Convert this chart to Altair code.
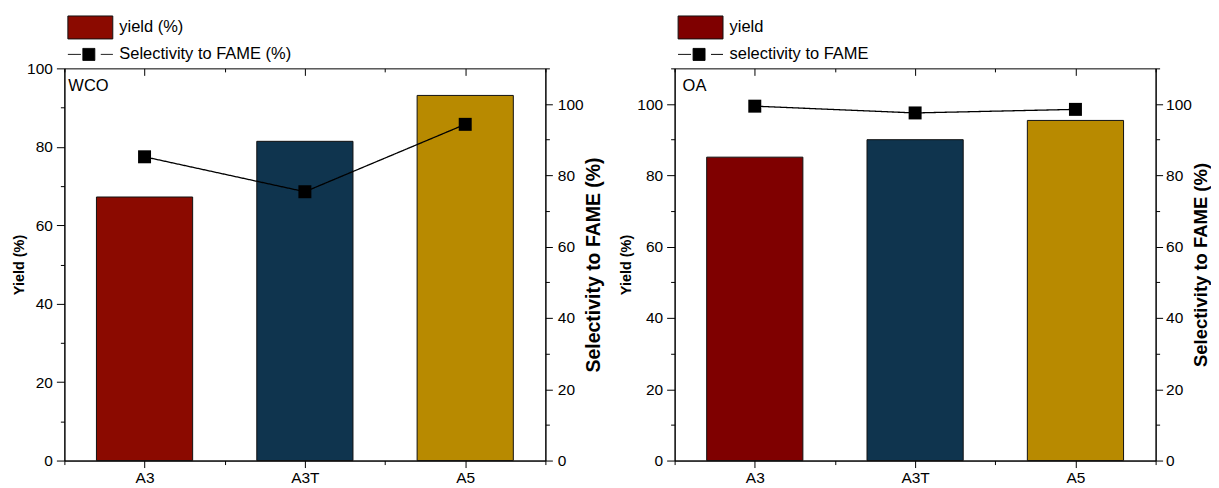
import json
import altair as alt
import pandas as pd

# ---------------- data ----------------
categories = ["A3", "A3T", "A5"]
wco_yield = [67.2, 81.4, 93.1]
wco_selectivity = [85.2, 75.4, 94.3]
oa_yield = [85.1, 90.0, 95.4]
oa_selectivity = [99.4, 97.5, 98.5]

wco_colors = ["#8B0A00", "#0F344E", "#B88A00"]
oa_colors = ["#7F0000", "#0F344E", "#B88A00"]

x_ticks = [0, 0.5, 1, 1.5, 2, 2.5, 3]
ticks_100 = list(range(0, 101, 10))
ticks_110 = list(range(0, 111, 10))

FONT = "Liberation Sans"
cat_js = json.dumps(categories)

# legend symbol shapes (unit box of sqrt(size)=23 px, extended to the right)
RECT_PATH = "M-1,-1H2.913V1H-1Z"
LINE_SQ_PATH = "M-1,0H0.13M1.87,0H2.913M0.304,-0.522H1.348V0.522H0.304Z"

PW, PH = 482, 393


def cond(test, a, b):
    return {"condition": {"test": test, "value": a}, "value": b}


def panel(name, yields, sels, colors, yield_max, yield_ticks, yield_lab, sel_lab,
          label_dx, left_ext, right_ext, right_pad, right_title_size):
    df = pd.DataFrame({
        "cat": categories,
        "idx": list(range(len(categories))),
        "yield": yields,
        "sel": sels,
        "ylab": [yield_lab] * len(categories),
        "slab": [sel_lab] * len(categories),
    })
    base = alt.Chart(df).transform_calculate(
        x0="datum.idx + 0.2", x1="datum.idx + 0.8", xc="datum.idx + 0.5"
    )
    xscale = alt.Scale(domain=[0, 3], nice=False, zero=False)

    bottom_axis = alt.Axis(
        orient="bottom", values=x_ticks, title=None, grid=False,
        labelExpr=f"datum.value % 1 === 0.5 ? {cat_js}[floor(datum.value)] : ''",
        tickSize=cond("datum.value % 1 === 0.5", 7, 4),
        labelOverlap=False, labelFlush=False, labelPadding=3, labelFontSize=15.5,
    )
    top_axis = alt.Axis(
        orient="top", values=x_ticks, title=None, grid=False, labels=False,
        domain=False, offset=-7, tickSize=7,
        tickDash=cond("datum.value % 1 !== 0.5", [0, 3.5, 3.5], []),
    )
    left_axis = alt.Axis(
        orient="left", values=yield_ticks, grid=False, title="Yield (%)",
        labelExpr="datum.value % 20 === 0 ? datum.label : ''",
        tickSize=cond("datum.value % 20 === 0", 8, 4),
        labelOverlap=False, labelPadding=4, labelFontSize=15.5,
        titleFontSize=14.5, titleFontWeight="bold", titlePadding=0,
        minExtent=left_ext, maxExtent=left_ext,
    )
    right_axis = alt.Axis(
        orient="right", values=ticks_110, grid=False, title="Selectivity to FAME (%)",
        labelExpr="datum.value % 20 === 0 && datum.value <= 100 ? datum.label : ''",
        tickSize=cond("datum.value % 20 === 0", 7, 4),
        labelOverlap=False, labelPadding=right_pad, labelFontSize=15.5,
        titleFontSize=right_title_size, titleFontWeight="bold", titlePadding=0,
        titleAngle=270, titleBaseline="top",
        minExtent=right_ext, maxExtent=right_ext,
    )

    bars = base.mark_bar(strokeWidth=1).encode(
        x=alt.X("x0:Q", scale=xscale, axis=bottom_axis),
        x2="x1:Q",
        y=alt.Y("yield:Q", scale=alt.Scale(domain=[0, yield_max], nice=False), axis=left_axis),
        y2=alt.datum(0),
        fill=alt.Fill("cat:N", scale=alt.Scale(domain=categories, range=colors), legend=None),
        stroke=alt.Stroke(
            "ylab:N", scale=alt.Scale(range=["#111111"]),
            legend=alt.Legend(
                title=None, orient="none", legendX=3, legendY=-53, padding=0,
                symbolType=RECT_PATH, symbolSize=529, symbolFillColor=colors[0],
                symbolStrokeWidth=1, labelFontSize=16.5, labelOffset=28, labelLimit=400,
            ),
        ),
    )

    line = base.mark_line(color="black", strokeWidth=1.3).encode(
        x=alt.X("xc:Q", scale=xscale, axis=top_axis),
        y=alt.Y("sel:Q", scale=alt.Scale(domain=[0, 110], nice=False), axis=right_axis),
        strokeDash=alt.StrokeDash(
            "slab:N", scale=alt.Scale(range=[[1, 0]]),
            legend=alt.Legend(
                title=None, orient="none", legendX=3, legendY=-26, padding=0,
                symbolType=LINE_SQ_PATH, symbolSize=529, symbolFillColor="black",
                symbolStrokeColor="black", symbolStrokeWidth=1,
                labelFontSize=16.5, labelOffset=28, labelLimit=400,
            ),
        ),
    )

    points = base.mark_square(size=169, filled=True, color="black", opacity=1).encode(
        x=alt.X("xc:Q", scale=xscale, axis=None),
        y=alt.Y("sel:Q", scale=alt.Scale(domain=[0, 110], nice=False), axis=None),
    )

    label = alt.Chart(pd.DataFrame({"t": [name]})).mark_text(
        align="left", baseline="alphabetic", fontSize=16.5, font=FONT, color="black"
    ).encode(text="t:N", x=alt.value(label_dx), y=alt.value(22.5))

    return alt.layer(bars, line, points, label).resolve_scale(y="independent").resolve_axis(
        x="independent", y="independent"
    ).properties(width=PW, height=PH)


left = panel("WCO", wco_yield, wco_selectivity, wco_colors, 100, ticks_100,
             "yield (%)", "Selectivity to FAME (%)", 4, 38, 39, 5, 19.5)
right = panel("OA", oa_yield, oa_selectivity, oa_colors, 110, ticks_110,
              "yield", "selectivity to FAME", 8, 41, 36, 3, 18.5)

chart = alt.hconcat(left, right, spacing=14.5).resolve_scale(
    fill="independent", stroke="independent", strokeDash="independent"
).properties(
    padding={"left": 2.5, "top": 6, "right": 0, "bottom": 0}
).configure(
    font=FONT
).configure_view(
    stroke="black", strokeWidth=1
).configure_axis(
    labelFont=FONT, titleFont=FONT, labelColor="black", titleColor="black",
    domainColor="black", tickColor="black", domainWidth=1, tickWidth=1,
).configure_legend(
    labelFont=FONT, labelColor="black"
)

chart.save("out.html", embed_options={"renderer": "svg", "actions": False})
